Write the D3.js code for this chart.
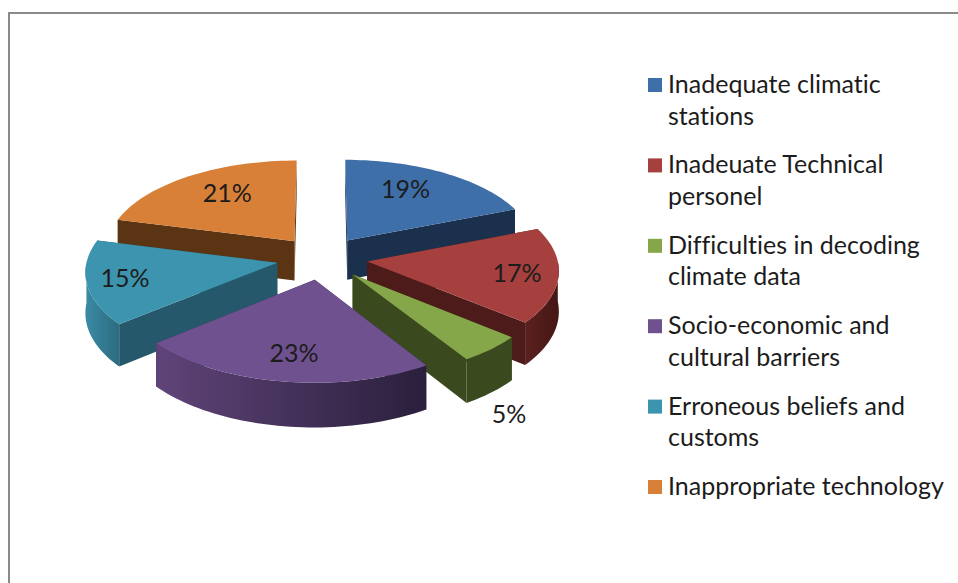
<!DOCTYPE html>
<html>
<head>
<meta charset="utf-8">
<script src="https://cdn.jsdelivr.net/npm/d3@7/dist/d3.min.js"></script>
<style>
html, body { margin: 0; padding: 0; background: #fff; overflow: hidden; }
text { font-family: Lato, "Open Sans", sans-serif; fill: #1c1c1c; font-variant-ligatures: none; }
</style>
</head>
<body>
<div id="chart"></div>
<script>
var categories = [
    ["Inadequate climatic", "stations"],
    ["Inadeuate Technical", "personel"],
    ["Difficulties in decoding", "climate data"],
    ["Socio-economic and", "cultural barriers"],
    ["Erroneous beliefs and", "customs"],
    ["Inappropriate technology"]
];
var shares = [19, 17, 5, 23, 15, 21];

var topColors = ["#3f6fa9", "#a5403e", "#86a64a", "#6f5190", "#3d94ae", "#d98038"];
var wallColors = ["#1b304d", "#4d1b19", "#3a4a1e", "#33264a", "#25586a", "#5b3413"];
var rimLeft = ["#2c4f7c", "#5a211f", "#3a4a1e", "#5f4479", "#3b8ba4", "#8a5220"];
var rimRight = ["#1b304d", "#451614", "#3a4a1e", "#2a1f3c", "#2c6b80", "#5b3413"];

// where each percent label sits: along the radius, then a small nudge in px
// (5% is outside the slice, under its rim)
var labelRadius = [0.62, 0.78, 1.1, 0.66, 0.74, 0.62];
var labelDrop = [0, 0, 1.25, 0, 0, 0];
var labelNudgeX = [-3, 1, 3, 1, -12, 0];
var labelNudgeY = [-7, 1, 3, 9, 1, -6];

var width = 958,
    height = 583,
    cx = 322,
    cy = 258,
    radius = 190,
    tilt = 0.475,
    perspective = 0.085,
    explode = 0.24,
    depth = 40;

var svg = d3.select("#chart").append("svg")
    .attr("width", width)
    .attr("height", height);

// picture frame, open on the right and at the bottom
svg.append("path")
    .attr("d", "M9," + height + "V13H" + width)
    .attr("fill", "none")
    .attr("stroke", "#8a8a8a")
    .attr("stroke-width", 2);

var pie = d3.pie().sort(null);
var slices = pie(shares);

function project(slice, r, angle, drop) {
    var mid = (slice.startAngle + slice.endAngle) / 2;
    var px = r * Math.sin(angle) + explode * Math.sin(mid);
    var py = r * Math.cos(angle) + explode * Math.cos(mid);
    var s = 1 / (1 + perspective * py);
    return [cx + px * radius * s, cy - py * radius * tilt * s + drop * depth * s];
}

function arcPoints(slice, from, to, drop) {
    var n = Math.max(2, Math.ceil((to - from) / 0.03));
    return d3.range(n + 1).map(function (i) {
        return project(slice, 1, from + (to - from) * i / n, drop);
    });
}

var line = d3.line();

var defs = svg.append("defs");
slices.forEach(function (d, i) {
    var grad = defs.append("linearGradient").attr("id", "rim" + i);
    grad.append("stop").attr("offset", "0%").attr("stop-color", rimLeft[i]);
    grad.append("stop").attr("offset", "100%").attr("stop-color", rimRight[i]);
});

// painter's order: back slices first
var order = [5, 0, 4, 1, 2, 3];

order.forEach(function (i) {
    var d = slices[i];
    var g = svg.append("g").attr("class", "slice");

    [d.startAngle, d.endAngle].forEach(function (a) {
        g.append("path")
            .attr("d", line([
                project(d, 0, a, 0),
                project(d, 1, a, 0),
                project(d, 1, a, 1),
                project(d, 0, a, 1)
            ]) + "Z")
            .attr("fill", wallColors[i]);
    });

    // only the front half of the rim can be seen
    var from = Math.max(d.startAngle, Math.PI / 2),
        to = Math.min(d.endAngle, Math.PI * 3 / 2);
    if (to > from) {
        g.append("path")
            .attr("d", line(arcPoints(d, from, to, 0).concat(arcPoints(d, from, to, 1).reverse())) + "Z")
            .attr("fill", "url(#rim" + i + ")");
    }

    g.append("path")
        .attr("d", line([project(d, 0, d.startAngle, 0)].concat(arcPoints(d, d.startAngle, d.endAngle, 0))) + "Z")
        .attr("fill", topColors[i]);
});

slices.forEach(function (d, i) {
    var mid = (d.startAngle + d.endAngle) / 2;
    var p = project(d, labelRadius[i], mid, labelDrop[i]);
    svg.append("text")
        .attr("x", p[0] + labelNudgeX[i])
        .attr("y", p[1] + 8 + labelNudgeY[i])
        .attr("text-anchor", "middle")
        .style("font-size", "25px")
        .text(shares[i] + "%");
});

var legendY = d3.scalePoint()
    .domain(d3.range(categories.length))
    .range([93, 495]);

categories.forEach(function (lines, i) {
    var y = legendY(i);
    svg.append("rect")
        .attr("x", 648)
        .attr("y", y - 15)
        .attr("width", 14)
        .attr("height", 14)
        .attr("fill", topColors[i]);
    lines.forEach(function (t, j) {
        svg.append("text")
            .attr("x", 668)
            .attr("y", y + j * 31.5)
            .style("font-size", "25px")
            .text(t);
    });
});
</script>
</body>
</html>
